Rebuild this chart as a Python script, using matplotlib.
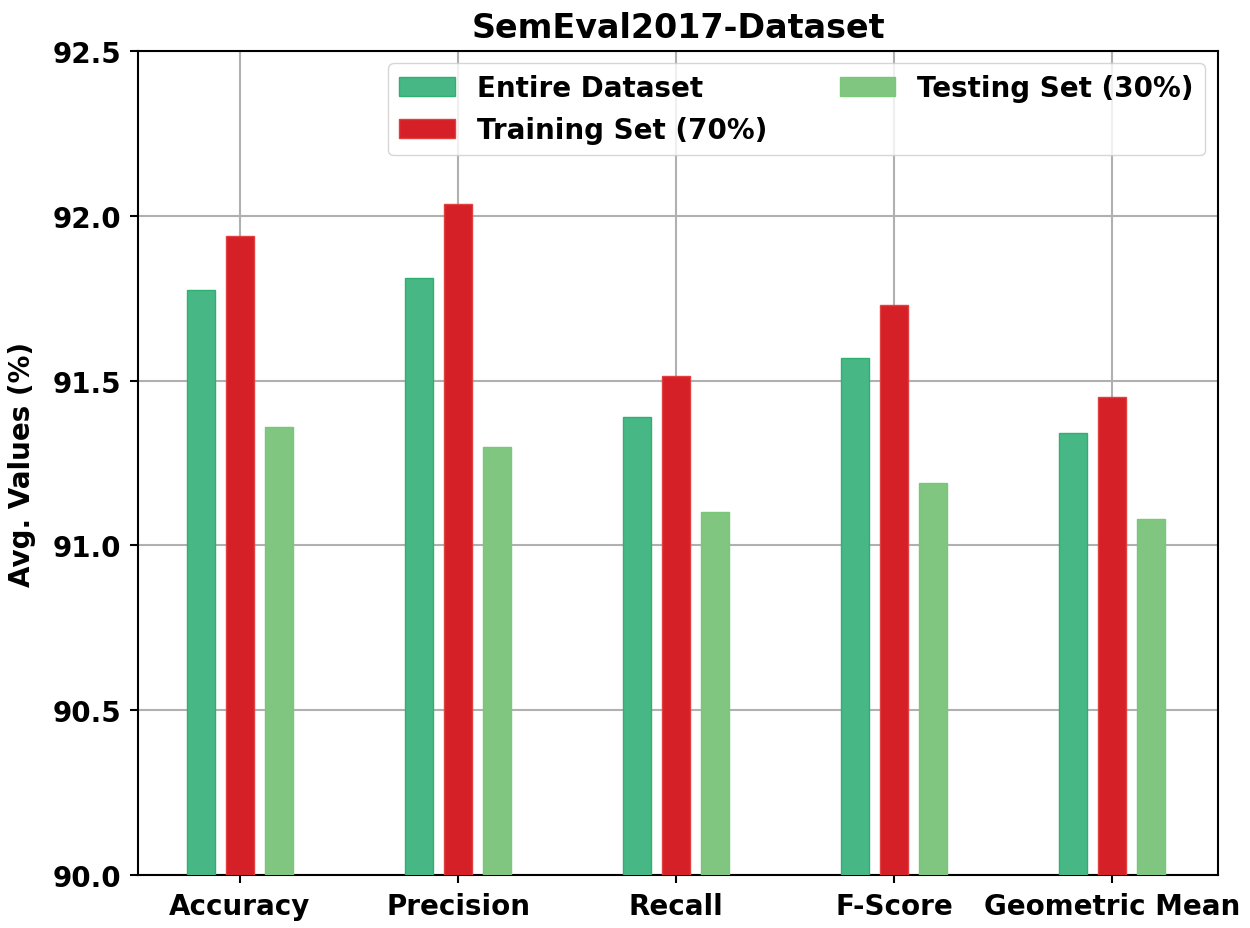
import matplotlib
matplotlib.use("Agg")
import matplotlib.pyplot as plt
import numpy as np

categories = ["Accuracy", "Precision", "Recall", "F-Score", "Geometric Mean"]
series_names = ["Entire Dataset", "Training Set (70%)", "Testing Set (30%)"]
entire = [91.775, 91.81, 91.39, 91.57, 91.34]
training = [91.94, 92.035, 91.515, 91.73, 91.45]
testing = [91.36, 91.30, 91.10, 91.19, 91.08]
colors = ["#47b885", "#d62027", "#80c680"]
edges = ["#2fb070", "#e04040", "#78c878"]

plt.rcParams['font.family'] = ['DejaVu Sans']
plt.rcParams['font.weight'] = 'bold'

fig = plt.figure(figsize=(12.5, 9.29), dpi=100)
ax = fig.add_axes([138/1250, 1-876/929, (1218-138)/1250, (876-52)/929])

x = np.arange(len(categories))
w = 0.13
off = 0.18
for i, (vals, name) in enumerate(zip([entire, training, testing], series_names)):
    ax.bar(x + (i-1)*off, vals, width=w, color=colors[i], edgecolor=edges[i],
           linewidth=1, label=name, zorder=3)

ax.set_ylim(90.0, 92.5)
ax.set_yticks([90.0, 90.5, 91.0, 91.5, 92.0, 92.5])
ax.set_xlim(-0.468, 4.486)
ax.set_xticks(x)
ax.set_xticklabels(categories, fontsize=20, fontweight='bold')
for t in ax.get_yticklabels():
    t.set_fontsize(20); t.set_fontweight('bold')
ax.tick_params(axis='both', length=6, width=1.5, pad=6)
ax.set_ylabel("Avg. Values (%)", fontsize=20, fontweight='bold', labelpad=12)
ax.set_title("SemEval2017-Dataset", fontsize=24, fontweight='bold', pad=10)
ax.grid(True, color='#b0b0b0', linewidth=1.5, zorder=0)
ax.set_axisbelow(True)
for s in ax.spines.values():
    s.set_linewidth(1.5)
    s.set_color('black')

leg = ax.legend(ncol=2, loc='upper right', prop={'weight': 'bold', 'size': 20},
                bbox_to_anchor=((1205-138)/1080, (876-64)/824), borderaxespad=0,
                columnspacing=2.6, frameon=True)
fig.savefig("out.png", dpi=100)
